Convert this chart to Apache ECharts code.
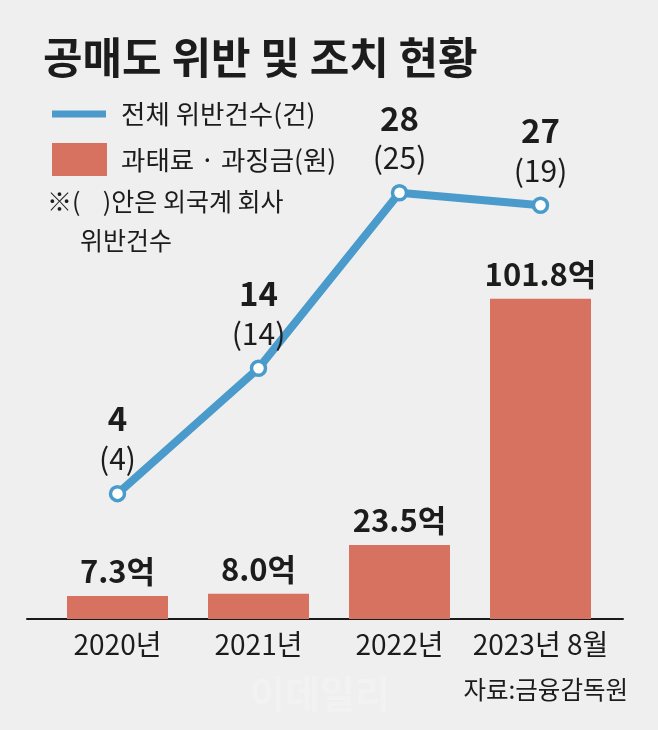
<!DOCTYPE html>
<html>
<head>
<meta charset="utf-8">
<script src="https://cdn.jsdelivr.net/npm/echarts@6/dist/echarts.min.js"></script>
<style>
html,body{margin:0;padding:0;background:#efefef;}
#chart{width:658px;height:730px;}
</style>
</head>
<body>
<div id="chart"></div>
<script>
const categories = ['2020년', '2021년', '2022년', '2023년 8월'];
const fines = [7.3, 8.0, 23.5, 101.8];          // 과태료·과징금 (억원)
const violations = [4, 14, 28, 27];            // 전체 위반건수
const foreignViolations = [4, 14, 25, 19];     // 외국계 회사 위반건수

const FONT = "'Noto Sans CJK KR', 'Noto Sans', sans-serif";
const TEXT = '#1c1c1c';
const BLUE = '#4a9bcb';
const RED = '#d6725f';
const LINE_NAME = '전체 위반건수(건)';
const BAR_NAME = '과태료 · 과징금(원)';

const chart = echarts.init(document.getElementById('chart'));
chart.setOption({
  backgroundColor: '#efefef',
  textStyle: { fontFamily: FONT },
  animation: false,
  title: [
    { text: '공매도 위반 및 조치 현황', left: 43, top: 33, padding: 0,
      textStyle: { fontFamily: FONT, fontSize: 43, fontWeight: 'bold', color: TEXT, lineHeight: 50 } },
    { text: '※(    )안은 외국계 회사', left: 47, top: 186, padding: 0,
      textStyle: { fontFamily: FONT, fontSize: 25, fontWeight: 'normal', color: TEXT, lineHeight: 30 } },
    { text: '위반건수', left: 80, top: 225, padding: 0,
      textStyle: { fontFamily: FONT, fontSize: 25, fontWeight: 'normal', color: TEXT, lineHeight: 30 } },
    { text: '자료:금융감독원', right: 30, top: 676, padding: 0,
      textStyle: { fontFamily: FONT, fontSize: 24.5, fontWeight: 'normal', color: TEXT, lineHeight: 28 } },
    { text: '이데일리', left: 250, top: 672, padding: 0,
      textStyle: { fontFamily: FONT, fontSize: 38, fontWeight: 'bold', color: 'rgba(255,255,255,0.22)', lineHeight: 44 } }
  ],
  legend: [
    { data: [{ name: LINE_NAME, icon: 'rect', itemStyle: { color: BLUE, borderWidth: 0 } }],
      left: 52, top: 99, padding: 0,
      itemWidth: 54, itemHeight: 7, selectedMode: false,
      textStyle: { fontFamily: FONT, fontSize: 26.5, color: TEXT, padding: [0, 0, 0, 10], lineHeight: 30 } },
    { data: [{ name: BAR_NAME, icon: 'rect', itemStyle: { color: RED, borderWidth: 0 } }],
      left: 52, top: 143, padding: 0,
      itemWidth: 55, itemHeight: 33, selectedMode: false,
      textStyle: { fontFamily: FONT, fontSize: 26.5, color: TEXT, padding: [0, 0, 0, 9], lineHeight: 30 } }
  ],
  grid: [
    { left: 47, right: 47, top: 100, bottom: 111 },
    { left: 27, right: 35, top: 100, bottom: 111 }
  ],
  xAxis: [
    { type: 'category', data: categories, gridIndex: 0,
      axisLine: { show: false }, axisTick: { show: false },
      axisLabel: { interval: 0, fontFamily: FONT, fontSize: 28, color: TEXT, margin: 11 } },
    { type: 'value', gridIndex: 1, min: 0, max: 1,
      axisLine: { show: true, lineStyle: { color: '#1a1a1a', width: 2 } },
      axisTick: { show: false }, axisLabel: { show: false }, splitLine: { show: false } }
  ],
  yAxis: [
    { type: 'value', gridIndex: 0, min: 0, max: 165, show: false, splitLine: { show: false } },
    { type: 'value', gridIndex: 0, min: -6, max: 35.4, show: false, splitLine: { show: false } },
    { type: 'value', gridIndex: 1, show: false, splitLine: { show: false } }
  ],
  series: [
    {
      name: BAR_NAME, type: 'bar', data: fines, xAxisIndex: 0, yAxisIndex: 0,
      barWidth: 101, itemStyle: { color: RED },
      label: { show: true, position: 'top', distance: 7,
        formatter: p => p.value.toFixed(1) + '억',
        fontFamily: FONT, fontSize: 31, fontWeight: 'bold', color: TEXT, lineHeight: 36 }
    },
    {
      name: LINE_NAME, type: 'line', data: violations, xAxisIndex: 0, yAxisIndex: 1,
      z: 5, symbol: 'circle', symbolSize: 14,
      lineStyle: { color: BLUE, width: 8 },
      itemStyle: { color: '#ffffff', borderColor: BLUE, borderWidth: 3.5 },
      label: { show: true, position: 'top', distance: 8,
        formatter: p => '{a|' + p.value + '}\n{b|(' + foreignViolations[p.dataIndex] + ')}',
        rich: {
          a: { fontFamily: FONT, fontSize: 33, fontWeight: 'bold', color: TEXT, lineHeight: 44, align: 'center' },
          b: { fontFamily: FONT, fontSize: 30, fontWeight: 'normal', color: TEXT, lineHeight: 36, align: 'center' }
        } }
    }
  ]
});
</script>
</body>
</html>
